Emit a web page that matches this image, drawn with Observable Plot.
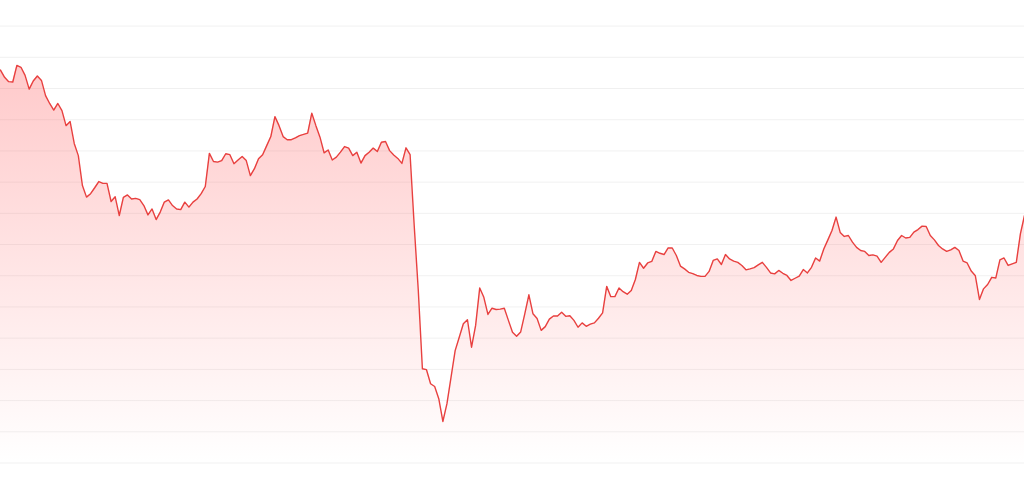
<!DOCTYPE html>
<html>
<head>
<meta charset="utf-8">
<script src="https://cdn.jsdelivr.net/npm/d3@7"></script>
<script src="https://cdn.jsdelivr.net/npm/@observablehq/plot@0.6"></script>
<style>
  html, body { margin: 0; padding: 0; background: #fff; }
  #chart svg { display: block; }
</style>
</head>
<body>
<div id="chart"></div>
<script>
// Daily closing values (day index = position in array)
const values = [
  125.9, 123.6, 122.2, 122.1, 127.4, 126.8, 124.2, 119.8, 122.4, 124.0,
  122.6, 117.7, 115.2, 113.1, 115.2, 112.9, 108.1, 109.4, 102.4, 98.5,
  88.9, 85.2, 86.3, 88.2, 90.2, 89.6, 89.6, 83.8, 85.3, 79.3,
  85.1, 85.9, 84.6, 84.8, 84.4, 82.5, 79.5, 81.4, 78.0, 80.4,
  83.6, 84.3, 82.5, 81.4, 81.2, 83.6, 82.0, 83.6, 84.6, 86.3,
  88.6, 99.2, 96.6, 96.4, 96.9, 99.1, 98.8, 95.9, 97.1, 98.2,
  96.9, 92.1, 94.3, 97.5, 98.8, 101.7, 104.6, 111.0, 108.1, 104.6,
  103.6, 103.6, 104.2, 104.9, 105.3, 105.7, 112.1, 108.1, 104.4, 99.4,
  100.3, 97.1, 98.0, 99.6, 101.4, 100.9, 98.5, 99.6, 96.1, 98.5,
  99.6, 100.9, 99.8, 102.8, 103.0, 100.1, 98.7, 97.6, 96.0, 101.0,
  98.8, 76.1, 55.3, 30.2, 29.9, 25.4, 24.5, 20.6, 13.3, 19.0,
  27.5, 36.0, 40.3, 44.6, 45.9, 37.1, 44.1, 56.1, 53.1, 47.6,
  49.6, 49.2, 49.3, 49.6, 45.7, 41.9, 40.6, 42.0, 47.8, 53.9,
  47.8, 46.3, 42.5, 43.7, 46.1, 47.1, 47.1, 48.3, 47.0, 47.2,
  45.7, 43.5, 44.9, 43.8, 44.5, 44.9, 46.4, 48.1, 56.6, 53.3,
  53.3, 56.1, 54.9, 54.1, 55.3, 58.8, 64.3, 62.4, 64.1, 64.6,
  67.8, 67.2, 66.8, 68.9, 68.9, 66.5, 63.1, 62.2, 61.1, 60.7,
  60.1, 59.8, 59.8, 61.4, 64.9, 65.4, 63.6, 66.8, 65.4, 64.7,
  64.3, 63.3, 61.9, 62.2, 62.6, 63.5, 64.3, 62.7, 60.9, 60.6,
  61.7, 60.8, 60.1, 58.5, 59.2, 59.9, 62.0, 60.9, 62.7, 65.7,
  64.7, 68.6, 71.5, 74.5, 78.8, 73.9, 72.6, 72.9, 70.8, 69.1,
  68.1, 67.8, 66.5, 66.7, 66.3, 64.3, 65.9, 67.5, 68.6, 71.3,
  72.9, 72.1, 72.3, 74.0, 74.8, 75.9, 75.8, 72.9, 71.5, 69.7,
  68.6, 67.8, 68.3, 69.1, 68.1, 64.7, 64.1, 61.5, 60.0, 52.4,
  55.8, 57.2, 59.5, 59.3, 65.1, 65.7, 63.3, 63.8, 64.3, 73.4,
  79.3
];
const gridTicks = [0, 10, 20, 30, 40, 50, 60, 70, 80, 90, 100, 110, 120, 130, 140];

const data = values.map((v, i) => ({day: i, value: v}));

const gradientDefs = () => {
  const ns = "http://www.w3.org/2000/svg";
  const defs = document.createElementNS(ns, "defs");
  const lg = document.createElementNS(ns, "linearGradient");
  lg.setAttribute("id", "fadeRed");
  lg.setAttribute("x1", "0"); lg.setAttribute("y1", "0");
  lg.setAttribute("x2", "0"); lg.setAttribute("y2", "1");
  const stops = [[0, 0.30], [1, 0.0]];
  for (const [o, op] of stops) {
    const s = document.createElementNS(ns, "stop");
    s.setAttribute("offset", o);
    s.setAttribute("stop-color", "#ff4d4f");
    s.setAttribute("stop-opacity", op);
    lg.appendChild(s);
  }
  defs.appendChild(lg);
  return defs;
};

const chart = Plot.plot({
  width: 1024,
  height: 477,
  marginTop: 0,
  marginBottom: 0,
  marginLeft: 0,
  marginRight: 0,
  style: {background: "#fff"},
  x: {domain: [0, values.length - 1], range: [0, 1024], axis: null},
  y: {domain: [0, 140], range: [462.5, 25.6], axis: null},
  marks: [
    gradientDefs,
    Plot.gridY(gridTicks, {stroke: "#000", strokeOpacity: 0.06, strokeWidth: 1}),
    Plot.areaY(data, {x: "day", y1: 0, y2: "value", fill: "url(#fadeRed)"}),
    Plot.lineY(data, {x: "day", y: "value", stroke: "#e8403f", strokeWidth: 1.4})
  ]
});
document.getElementById("chart").appendChild(chart);
</script>
</body>
</html>
